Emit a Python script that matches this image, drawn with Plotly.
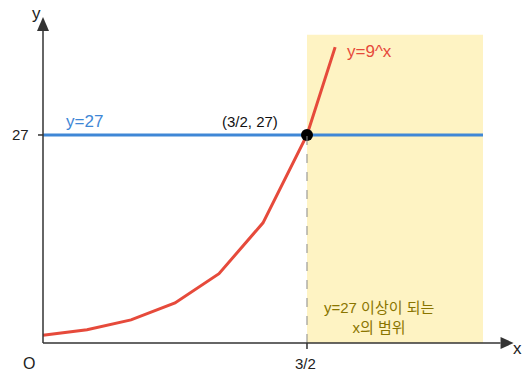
import plotly.graph_objects as go

# y = 9^x sampled values
curve_x = [0, 0.25, 0.5, 0.75, 1.0, 1.25, 1.5, 1.66]
curve_y = [1, 1.73, 3, 5.2, 9, 15.6, 27, 38.4]

level_y = 27
cross_x = 1.5
region_x = [1.5, 2.5]
region_top = 40
x_tick_vals = [1.5]
x_tick_text = ["3/2"]
y_tick_vals = [27]
y_tick_text = ["27"]

RED = "#e64a3b"
BLUE = "#3f87d6"
AXIS = "#333333"
FONT = "Helvetica, Arial, 'Liberation Sans', 'Noto Sans CJK KR', sans-serif"

fig = go.Figure()

# shaded region x >= 3/2
fig.add_shape(type="rect", x0=region_x[0], x1=region_x[1], y0=0, y1=region_top,
              fillcolor="#fef3c3", line_width=0, layer="below")

# dashed guide at x = 3/2
fig.add_shape(type="line", x0=cross_x, x1=cross_x, y0=0, y1=level_y,
              line=dict(color="#888888", width=1, dash="dash"))

# horizontal line y = 27
fig.add_trace(go.Scatter(x=[0, region_x[1]], y=[level_y, level_y], mode="lines",
                         line=dict(color=BLUE, width=3), hoverinfo="skip"))

# exponential curve
fig.add_trace(go.Scatter(x=curve_x, y=curve_y, mode="lines",
                         line=dict(color=RED, width=3), hoverinfo="skip"))

# intersection point
fig.add_trace(go.Scatter(x=[cross_x], y=[level_y], mode="markers",
                         marker=dict(color="black", size=12), hoverinfo="skip"))

# axes
fig.add_shape(type="line", x0=0, x1=0, y0=0, y1=40.5, line=dict(color=AXIS, width=1.5))
fig.add_shape(type="line", x0=0, x1=2.6, y0=0, y1=0, line=dict(color=AXIS, width=1.5))
# arrow heads (pixel-sized triangles anchored at axis ends)
fig.add_shape(type="path", xsizemode="pixel", ysizemode="pixel", xanchor=0, yanchor=40.5,
              path="M -6 0 L 6 0 L 0 14 Z", fillcolor=AXIS, line_width=0)
fig.add_shape(type="path", xsizemode="pixel", ysizemode="pixel", xanchor=2.6, yanchor=0,
              path="M 0 -6 L 0 6 L 13 0 Z", fillcolor=AXIS, line_width=0)

# ticks
for v in x_tick_vals:
    fig.add_shape(type="line", x0=v, x1=v, y0=0, ysizemode="pixel", yanchor=0,
                  y1=-6, line=dict(color=AXIS, width=1.5))
for v in y_tick_vals:
    fig.add_shape(type="line", y0=v, y1=v, x0=0, xsizemode="pixel", xanchor=0,
                  x1=-5, line=dict(color=AXIS, width=1.5))

def txt(x, y, s, color="#222222", size=14, xanchor="center", **kw):
    fig.add_annotation(x=x, y=y, text=s, showarrow=False, xanchor=xanchor,
                       yanchor="middle", font=dict(color=color, size=size, family=FONT), **kw)

for v, t in zip(x_tick_vals, x_tick_text):
    txt(v - 0.01, -2.6, t, size=15)
for v, t in zip(y_tick_vals, y_tick_text):
    txt(-0.13, v, t, size=15)

txt(-0.08, -2.6, "O", size=16)
txt(-0.035, 42.8, "y", size=17)
txt(2.733, -0.7, "x", size=17, xanchor="right")

txt(0.235, level_y + 1.8, "y=27", color=BLUE, size=17)
txt(1.175, level_y + 1.8, "(3/2, 27)", color="#111111", size=15)
txt(1.715, 37.8, "y=9^x", color=RED, size=17, xanchor="left")
txt(1.91, 3.3, "y=27 이상이 되는<br>x의 범위", color="#8a7500", size=15)

fig.update_layout(
    width=524, height=372,
    margin=dict(l=0, r=0, t=0, b=0),
    paper_bgcolor="white", plot_bgcolor="white",
    showlegend=False,
    xaxis=dict(range=[-0.2443, 2.733], visible=False, fixedrange=True),
    yaxis=dict(range=[-3.764, 44.52], visible=False, fixedrange=True),
)

fig.write_html("out.html")
